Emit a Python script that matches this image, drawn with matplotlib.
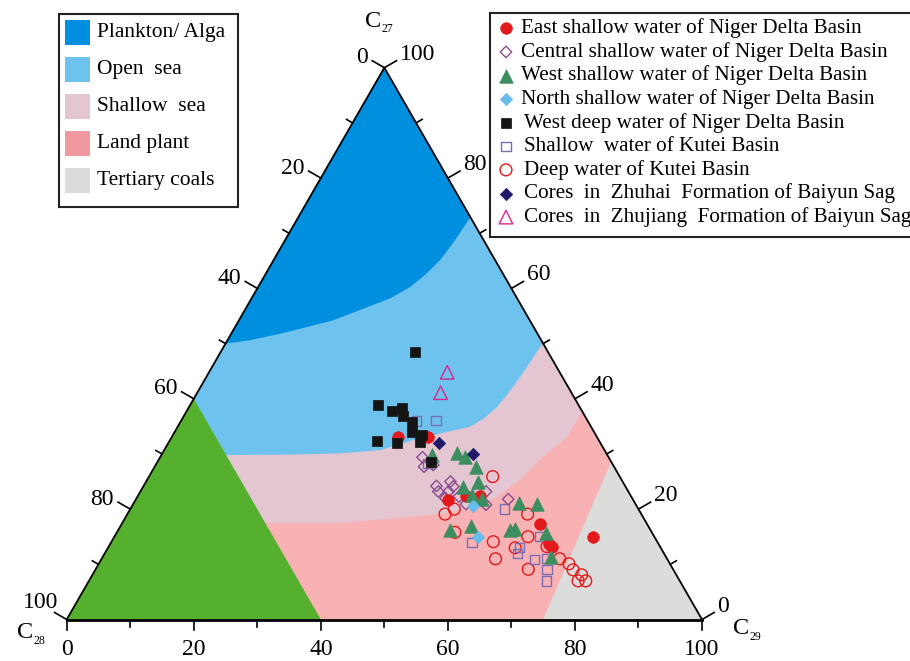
import numpy as np
import matplotlib.pyplot as plt
from matplotlib.patches import Polygon, Rectangle

plt.rcParams['font.family'] = ['Liberation Serif', 'DejaVu Serif']

# ---- sample compositions: % C27 and % C29 (C28 = 100 - C27 - C29) ----
east_c27 = [33.0, 33.0, 21.7, 22.4, 22.4, 17.3, 13.7, 13.1, 15.0]
east_c29 = [35.6, 40.3, 49.2, 51.7, 53.8, 65.8, 69.0, 69.8, 75.3]

central_c27 = [29.4, 28.0, 27.7, 24.2, 25.0, 23.2, 23.2, 24.1, 22.3, 23.2, 20.8, 21.8, 22.0, 20.9]
central_c29 = [41.3, 43.7, 42.4, 46.1, 47.9, 46.9, 48.5, 48.8, 50.6, 54.4, 55.6, 58.6, 48.6, 52.4]

west_c27 = [29.8, 30.2, 29.4, 27.7, 25.0, 24.0, 22.6, 21.8, 21.1, 20.9, 16.3, 16.9, 16.2, 16.4, 15.6, 11.4]
west_c29 = [42.6, 46.3, 48.0, 50.6, 52.3, 50.4, 52.5, 54.4, 60.6, 63.6, 52.2, 55.2, 61.6, 62.4, 67.7, 70.5]

north_c27 = [20.6, 15.0]
north_c29 = [53.7, 57.2]

deepwest_c27 = [48.4, 38.8, 37.8, 38.4, 36.9, 35.8, 32.4, 31.9, 33.9, 33.4, 32.1, 28.6]
deepwest_c29 = [30.7, 29.6, 32.3, 33.5, 34.5, 36.4, 32.6, 36.1, 37.4, 39.3, 39.6, 43.0]

kutei_sh_c27 = [36.0, 36.1, 28.3, 20.0, 14.0, 13.0, 11.9, 10.9, 15.0, 11.1, 9.0, 7.0]
kutei_sh_c29 = [37.1, 40.1, 42.7, 58.9, 56.8, 64.8, 65.0, 68.2, 67.0, 70.0, 71.1, 72.0]

kutei_dp_c27 = [25.9, 19.1, 20.0, 19.1, 15.8, 14.1, 11.0, 15.0, 13.0, 9.1, 11.0, 10.1, 9.0, 8.1, 7.0, 7.0, 13.2]
kutei_dp_c29 = [54.1, 50.0, 51.0, 63.0, 53.2, 60.1, 62.0, 65.1, 64.1, 68.1, 72.1, 74.0, 75.2, 77.0, 77.0, 78.2, 69.0]

zhuhai_c27 = [31.9, 30.0]
zhuhai_c29 = [42.6, 48.9]

zhujiang_c27 = [44.8, 41.1]
zhujiang_c29 = [37.5, 38.3]

# ---- source-field boundaries (C27 %, C29 %) ----
plankton_c27 = [50.0, 50.6, 51.9, 54.2, 58.2, 60.2, 62.5, 65.1, 67.5, 69.3, 72.9]
plankton_c29 = [0.0, 3.5, 8.1, 14.8, 21.8, 23.9, 25.2, 26.2, 26.6, 26.8, 27.1]
opensea_c27 = [29.8, 29.8, 29.9, 30.1, 30.7, 32.2, 33.7, 34.9, 36.5, 38.5, 41.0, 43.9, 50.1]
opensea_c29 = [0.0, 10.5, 21.0, 28.0, 34.0, 37.5, 41.9, 46.0, 47.5, 48.5, 49.0, 49.4, 49.9]
land_c27 = [17.5, 17.5, 17.5, 18.4, 19.3, 20.5, 22.2, 25.3, 28.9, 33.1, 37.6]
land_c29 = [0.0, 22.5, 34.3, 43.3, 50.2, 53.8, 56.6, 58.7, 60.0, 62.2, 62.3]
coal_c27 = [0.0, 28.6, 0.0]
coal_c29 = [75.0, 71.4, 100.0]
green_c27 = [0.0, 40.0, 0.0]
green_c29 = [0.0, 0.0, 40.0]

field_names = ['Plankton/ Alga', 'Open  sea', 'Shallow  sea', 'Land plant', 'Tertiary coals']
field_colors = ['#008ede', '#6ec3ee', '#e4c6d2', '#f0989e', '#dcdcda']
land_fill = '#f9b2b4'
green_fill = '#55b02e'

sample_labels = [
    'East shallow water of Niger Delta Basin',
    'Central shallow water of Niger Delta Basin',
    'West shallow water of Niger Delta Basin',
    'North shallow water of Niger Delta Basin',
    'West deep water of Niger Delta Basin',
    'Shallow  water of Kutei Basin',
    'Deep water of Kutei Basin',
    'Cores  in  Zhuhai  Formation of Baiyun Sag',
    'Cores  in  Zhujiang  Formation of Baiyun Sag',
]
sample_data = [
    (east_c27, east_c29), (central_c27, central_c29), (west_c27, west_c29),
    (north_c27, north_c29), (deepwest_c27, deepwest_c29), (kutei_sh_c27, kutei_sh_c29),
    (kutei_dp_c27, kutei_dp_c29), (zhuhai_c27, zhuhai_c29), (zhujiang_c27, zhujiang_c29),
]
red = '#e3191b'
sample_styles = [
    dict(marker='o', s=70, facecolors=red, edgecolors=red, linewidths=0.5),
    dict(marker='D', s=34, facecolors='none', edgecolors='#8b4b8f', linewidths=1.0),
    dict(marker='^', s=95, facecolors='#3c8d5f', edgecolors='#3c8d5f', linewidths=0.5),
    dict(marker='D', s=40, facecolors='#66bdeb', edgecolors='#66bdeb', linewidths=0.5),
    dict(marker='s', s=50, facecolors='#141414', edgecolors='#141414', linewidths=0.5),
    dict(marker='s', s=45, facecolors='none', edgecolors='#7a6db3', linewidths=1.0),
    dict(marker='o', s=72, facecolors='none', edgecolors=red, linewidths=1.0),
    dict(marker='D', s=40, facecolors='#201868', edgecolors='#201868', linewidths=0.5),
    dict(marker='^', s=95, facecolors='none', edgecolors='#d9258f', linewidths=1.0),
]
draw_order = [6, 5, 1, 0, 2, 3, 7, 8, 4]


def tern(c27, c29):
    c27 = np.asarray(c27, float)
    c29 = np.asarray(c29, float)
    return c29 + c27 / 2.0, c27


W, H = 910, 661
fig = plt.figure(figsize=(W / 100, H / 100), dpi=100)
# triangle: C28 corner bottom-left, C29 bottom-right, C27 at the top
left_px, base_px, width_px, height_px = 66.7, 619.5, 635.3, 551.8
ax = fig.add_axes([left_px / W, 1 - base_px / H, width_px / W, height_px / H])
ax.set_xlim(0, 100)
ax.set_ylim(0, 100)
ax.axis('off')
px = width_px / 100.0
py = height_px / 100.0


def fill_region(c27, c29, color, z):
    x, y = tern(c27, c29)
    ax.add_patch(Polygon(np.column_stack([x, y]), closed=True, facecolor=color,
                         edgecolor='none', zorder=z))


fill_region([0, 0, 100], [0, 100, 0], field_colors[2], 1)
fill_region(opensea_c27 + [100], opensea_c29 + [0], field_colors[1], 2)
fill_region(plankton_c27 + [100], plankton_c29 + [0], field_colors[0], 3)
fill_region(land_c27 + [0, 0], land_c29 + [100, 0], land_fill, 2)
fill_region(coal_c27, coal_c29, field_colors[4], 3)
fill_region(green_c27, green_c29, green_fill, 4)

for i in draw_order:
    x, y = tern(*sample_data[i])
    ax.scatter(x, y, zorder=5 + draw_order.index(i) * 0.1, clip_on=False, **sample_styles[i])

# frame
ax.plot([0, 50, 100], [0, 100, 0], color='k', lw=1.3, clip_on=False, zorder=10)
ax.plot([0, 100], [0, 0], color='k', lw=2.0, clip_on=False, zorder=10)


def tick(x0, y0, ux, uy, length):
    x1, y1 = x0 + ux * length / px, y0 + uy * length / py
    ax.plot([x0, x1], [y0, y1], color='k', lw=1.2, clip_on=False, zorder=10)
    return x1, y1


tick_fs = 17
for v in range(0, 101, 10):
    major = v % 20 == 0
    # bottom axis: C29
    tick(v, 0, 0, -1, 10 if major else 7)
    if major:
        ax.text(v, -19.5 / py, str(v), ha='center', va='top', fontsize=tick_fs)
    # left edge: C28
    a = 100 - v
    ex, ey = tick(a / 2.0, a, -0.866, 0.5, 14 if major else 7)
    if major:
        if v == 100:
            ax.text(ex + 4 / px, ey + 10 / py, str(v), ha='right', va='center', fontsize=tick_fs)
        else:
            ax.text(ex - 4 / px, ey + 3 / py, str(v), ha='right', va='center', fontsize=tick_fs)
    # right edge: C27
    ex, ey = tick(100 - v / 2.0, v, 0.866, 0.5, 14 if major else 7)
    if major:
        ax.text(ex + 3 / px, ey + 1 / py, str(v), ha='left', va='baseline', fontsize=tick_fs)

# overlay in pixel units for corner names and legends
ov = fig.add_axes([0, 0, 1, 1], zorder=3)
ov.set_xlim(0, W)
ov.set_ylim(H, 0)
ov.axis('off')

for cx, cy, sub in [(373.5, 21.5, '27'), (25, 633, '28'), (741, 629, '29')]:
    ov.text(cx, cy, 'C', ha='center', va='center', fontsize=17.5)
    ov.text(cx + 8.5, cy + 8, sub, ha='left', va='center', fontsize=8.5)

# source-field legend
ov.add_patch(Rectangle((59, 14), 179.3, 193.3, facecolor='white', edgecolor='#222222', lw=1.5))
for k, (name, col) in enumerate(zip(field_names, field_colors)):
    yc = 32 + k * 37.2
    ov.add_patch(Rectangle((65, yc - 12.5), 25, 25, facecolor=col, edgecolor='none'))
    ov.text(97, yc, name, ha='left', va='center', fontsize=15.5)

# sample legend
ov.add_patch(Rectangle((490, 12.7), 500, 224.5, facecolor='white', edgecolor='#222222', lw=1.5))
for k, (name, st) in enumerate(zip(sample_labels, sample_styles)):
    yc = 28.3 + k * 23.6
    ov.scatter([506], [yc], **st)
    ov.text(521 if k < 4 else 524, yc, name, ha='left', va='center', fontsize=15.2)

fig.savefig('out.png', dpi=100)
